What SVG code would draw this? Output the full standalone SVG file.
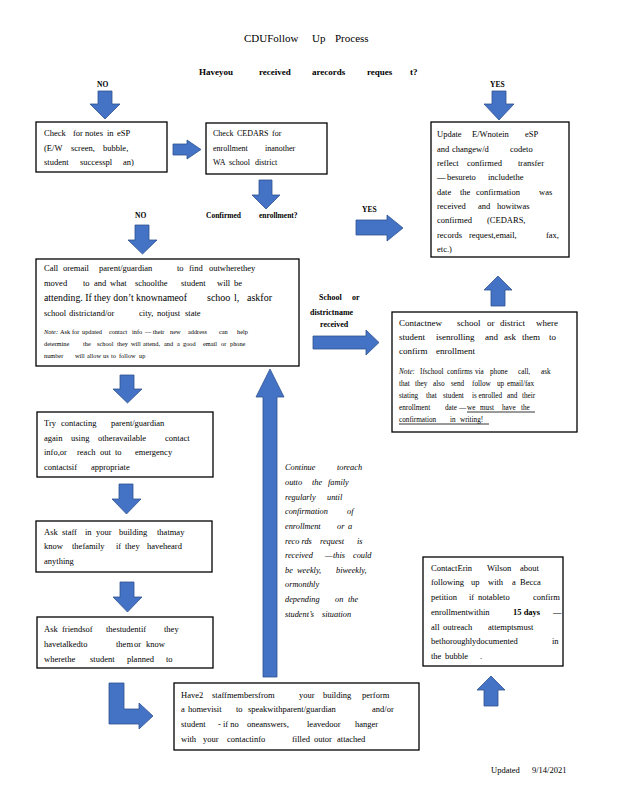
<svg xmlns="http://www.w3.org/2000/svg" width="618" height="800" viewBox="0 0 618 800">
<style>
.t{font-family:"Liberation Serif","Times New Roman",serif;font-size:8.5px;fill:#000}
.b{font-weight:bold}
.n{font-size:6.3px}
.n2{font-size:7.2px}
.i{font-style:italic}
.big{font-size:10px}
.box{fill:#fff;stroke:#000;stroke-width:1.3}
.ar{fill:#4472C4;stroke:#2F528F;stroke-width:0.8}
.ul{stroke:#000;stroke-width:0.8}
</style>
<rect width="618" height="800" fill="#fff"/>
<g id="title">
<text class="t" style="font-size:11px" y="42"><tspan x="244">CDUFollow</tspan><tspan x="312">Up</tspan><tspan x="335">Process</tspan></text>
<text class="t b" style="font-size:9px" y="75"><tspan x="199">Haveyou</tspan><tspan x="259">received</tspan><tspan x="312">arecords</tspan><tspan x="367">reques</tspan><tspan x="410">t?</tspan></text>
<text class="t b" style="font-size:7.5px" y="87" x="97">NO</text>
<text class="t b" style="font-size:7.5px" y="87" x="490">YES</text>
</g>
<g id="connectors">
<path class="ar" d="M98,91H112V104H120L105,119L90,104H98Z"/>
<path class="ar" d="M492,91H506V104H514L499,120L484,104H492Z"/>
<path class="ar" d="M173,144H187V140L201,149.5L187,159V155H173Z"/>
<path class="ar" d="M259,180H272V195H280L266,209L252,195H259Z"/>
<path class="ar" d="M356,220H387V215L403,228L387,241V235H356Z"/>
<path class="ar" d="M135,225H149V240H157L142.5,254L128,240H135Z"/>
<path class="ar" d="M491,306V290H484L498,276L512,290H505V306Z"/>
<path class="ar" d="M313,336H366V330L379,342.5L366,355V349H313Z"/>
<path class="ar" d="M120,375H134V389H142L127.5,403L113,389H120Z"/>
<path class="ar" d="M119,484H133V499H141L126.5,514L112,499H119Z"/>
<path class="ar" d="M120,582H134V597H142L127.5,612L113,597H120Z"/>
<path class="ar" d="M109,683H124V709H139V703L153,716L139,729V724H109Z"/>
<path class="ar" d="M263,677V397H256L270,369L284,397H277V677Z"/>
<path class="ar" d="M484,706V690H477L491,676L505,690H498V706Z"/>
<text class="t b" style="font-size:7.5px" y="218" x="135">NO</text>
<text class="t b" style="font-size:7.5px" y="217.5"><tspan x="206">Confirmed</tspan><tspan x="259">enrollment?</tspan></text>
<text class="t b" style="font-size:7.5px" y="212" x="362">YES</text>
<text class="t b" style="font-size:8px" y="300"><tspan x="319">School</tspan><tspan x="352">or</tspan></text>
<text class="t b" style="font-size:8px" y="315" x="310">districtname</text>
<text class="t b" style="font-size:8px" y="327" x="320">received</text>
<text class="t i" style="font-size:8.3px" y="470"><tspan x="285">Continue</tspan><tspan x="337">toreach</tspan></text>
<text class="t i" style="font-size:8.3px" y="485"><tspan x="285">outto</tspan><tspan x="312">the</tspan><tspan x="328">family</tspan></text>
<text class="t i" style="font-size:8.3px" y="500"><tspan x="285">regularly</tspan><tspan x="327">until</tspan></text>
<text class="t i" style="font-size:8.3px" y="514"><tspan x="285">confirmation</tspan><tspan x="347">of</tspan></text>
<text class="t i" style="font-size:8.3px" y="529"><tspan x="285">enrollment</tspan><tspan x="337">or</tspan><tspan x="348">a</tspan></text>
<text class="t i" style="font-size:8.3px" y="544"><tspan x="285">reco rds</tspan><tspan x="320">request</tspan><tspan x="357">is</tspan></text>
<text class="t i" style="font-size:8.3px" y="558"><tspan x="285">received</tspan><tspan x="325">—</tspan><tspan x="333">this</tspan><tspan x="353">could</tspan></text>
<text class="t i" style="font-size:8.3px" y="573"><tspan x="285">be</tspan><tspan x="297">weekly,</tspan><tspan x="336">biweekly,</tspan></text>
<text class="t i" style="font-size:8.3px" y="587" x="285">ormonthly</text>
<text class="t i" style="font-size:8.3px" y="602"><tspan x="285">depending</tspan><tspan x="335">on</tspan><tspan x="348">the</tspan></text>
<text class="t i" style="font-size:8.3px" y="617"><tspan x="285">student’s</tspan><tspan x="322">situation</tspan></text>
</g>
<g id="n1">
<rect class="box" x="36" y="122" width="131" height="50"/>
<text class="t" y="136"><tspan x="44">Check</tspan><tspan x="73">for</tspan><tspan x="85">notes</tspan><tspan x="107">in</tspan><tspan x="117">eSP</tspan></text>
<text class="t" y="151"><tspan x="44">(E/W</tspan><tspan x="71">screen,</tspan><tspan x="103">bubble,</tspan></text>
<text class="t" y="165"><tspan x="44">student</tspan><tspan x="80">successpl</tspan><tspan x="123">an)</tspan></text>
</g>
<g id="n2">
<rect class="box" x="206" y="123" width="121" height="51"/>
<text class="t" style="font-size:8px" y="136"><tspan x="213">Check</tspan><tspan x="237">CEDARS</tspan><tspan x="272">for</tspan></text>
<text class="t" style="font-size:8px" y="151"><tspan x="213">enrollment</tspan><tspan x="265">inanother</tspan></text>
<text class="t" style="font-size:8px" y="165"><tspan x="213">WA</tspan><tspan x="229">school</tspan><tspan x="255">district</tspan></text>
</g>
<g id="n3">
<rect class="box" x="431" y="122" width="138" height="135"/>
<text class="t" y="137"><tspan x="437">Update</tspan><tspan x="472">E/Wnotein</tspan><tspan x="525">eSP</tspan></text>
<text class="t" y="152"><tspan x="437">and</tspan><tspan x="452">changew/d</tspan><tspan x="510">codeto</tspan></text>
<text class="t" y="166"><tspan x="437">reflect</tspan><tspan x="467">confirmed</tspan><tspan x="518">transfer</tspan></text>
<text class="t" y="180"><tspan x="437">—</tspan><tspan x="447">besureto</tspan><tspan x="488">includethe</tspan></text>
<text class="t" y="195"><tspan x="437">date</tspan><tspan x="460">the</tspan><tspan x="476">confirmation</tspan><tspan x="539">was</tspan></text>
<text class="t" y="209"><tspan x="437">received</tspan><tspan x="478">and</tspan><tspan x="497">howitwas</tspan></text>
<text class="t" y="223"><tspan x="437">confirmed</tspan><tspan x="487">(CEDARS,</tspan></text>
<text class="t" y="238"><tspan x="437">records</tspan><tspan x="469">request,email,</tspan><tspan x="546">fax,</tspan></text>
<text class="t" y="252" x="437">etc.)</text>
</g>
<g id="n4">
<rect class="box" x="36" y="259" width="263" height="107"/>
<text class="t" y="271"><tspan x="44">Call</tspan><tspan x="63">oremail</tspan><tspan x="99">parent/guardian</tspan><tspan x="177">to</tspan><tspan x="189">find</tspan><tspan x="209">outwherethey</tspan></text>
<text class="t" y="286"><tspan x="44">moved</tspan><tspan x="83">to</tspan><tspan x="94">and</tspan><tspan x="110">what</tspan><tspan x="135">schoolthe</tspan><tspan x="181">student</tspan><tspan x="217">will</tspan><tspan x="234">be</tspan></text>
<text class="t big" y="301"><tspan x="44" textLength="143" lengthAdjust="spacingAndGlyphs">attending. If they don’t knownameof</tspan><tspan x="207">schoo</tspan><tspan x="234">l,</tspan><tspan x="247">askfor</tspan></text>
<text class="t" y="316"><tspan x="44">school</tspan><tspan x="69">districtand/or</tspan><tspan x="139">city,</tspan><tspan x="157">notjust</tspan><tspan x="185">state</tspan></text>
<text class="t n" y="334"><tspan x="44" class="i">Note:</tspan><tspan x="60">Ask</tspan><tspan x="72">for</tspan><tspan x="82">updated</tspan><tspan x="109">contact</tspan><tspan x="132">info</tspan><tspan x="145">— their</tspan><tspan x="170">new</tspan><tspan x="188">address</tspan><tspan x="219">can</tspan><tspan x="237">help</tspan></text>
<text class="t n" y="346"><tspan x="44">determine</tspan><tspan x="83">the</tspan><tspan x="97">school</tspan><tspan x="117">they</tspan><tspan x="131">will</tspan><tspan x="143">attend,</tspan><tspan x="164">and</tspan><tspan x="177">a</tspan><tspan x="183">good</tspan><tspan x="203">email</tspan><tspan x="221">or</tspan><tspan x="230">phone</tspan></text>
<text class="t n" y="358"><tspan x="44">number</tspan><tspan x="75">will</tspan><tspan x="87">allow</tspan><tspan x="103">us</tspan><tspan x="111">to</tspan><tspan x="119">follow</tspan><tspan x="139">up</tspan></text>
</g>
<g id="n5">
<rect class="box" x="392" y="312" width="185" height="120"/>
<text class="t" style="font-size:9px" y="326"><tspan x="399">Contactnew</tspan><tspan x="457">school</tspan><tspan x="487">or</tspan><tspan x="500">district</tspan><tspan x="536">where</tspan></text>
<text class="t" style="font-size:9px" y="340"><tspan x="399">student</tspan><tspan x="436">isenrolling</tspan><tspan x="485">and</tspan><tspan x="504">ask</tspan><tspan x="522">them</tspan><tspan x="549">to</tspan></text>
<text class="t" style="font-size:9px" y="354"><tspan x="399">confirm</tspan><tspan x="436">enrollment</tspan></text>
<text class="t n2" y="374"><tspan x="399" class="i">Note:</tspan><tspan x="420">Ifschool</tspan><tspan x="447">confirms</tspan><tspan x="475">via</tspan><tspan x="490">phone</tspan><tspan x="518">call,</tspan><tspan x="541">ask</tspan></text>
<text class="t n2" y="386"><tspan x="399">that</tspan><tspan x="415">they</tspan><tspan x="433">also</tspan><tspan x="451">send</tspan><tspan x="472">follow</tspan><tspan x="497">up</tspan><tspan x="507">email/fax</tspan></text>
<text class="t n2" y="398"><tspan x="399">stating</tspan><tspan x="426">that</tspan><tspan x="443">student</tspan><tspan x="472">is enrolled</tspan><tspan x="507">and</tspan><tspan x="522">their</tspan></text>
<text class="t n2" y="410"><tspan x="399">enrollment</tspan><tspan x="445">date</tspan><tspan x="459">—</tspan><tspan x="467">we</tspan><tspan x="480">must</tspan><tspan x="502">have</tspan><tspan x="521">the</tspan></text>
<text class="t n2" y="422"><tspan x="399">confirmation</tspan><tspan x="450">in</tspan><tspan x="460">writing!</tspan></text>
<line class="ul" x1="467" y1="412" x2="535" y2="412"/>
<line class="ul" x1="399" y1="424" x2="489" y2="424"/>
</g>
<g id="n6">
<rect class="box" x="37" y="412" width="176" height="65"/>
<text class="t" y="426"><tspan x="44">Try</tspan><tspan x="61">contacting</tspan><tspan x="111">parent/guardian</tspan></text>
<text class="t" y="441"><tspan x="44">again</tspan><tspan x="71">using</tspan><tspan x="98">otheravailable</tspan><tspan x="165">contact</tspan></text>
<text class="t" y="455"><tspan x="44">info,or</tspan><tspan x="77">reach</tspan><tspan x="100">out</tspan><tspan x="115">to</tspan><tspan x="135">emergency</tspan></text>
<text class="t" y="470"><tspan x="44">contactsif</tspan><tspan x="91">appropriate</tspan></text>
</g>
<g id="n7">
<rect class="box" x="36" y="521" width="176" height="51"/>
<text class="t" y="535"><tspan x="44">Ask</tspan><tspan x="62">staff</tspan><tspan x="85">in</tspan><tspan x="96">your</tspan><tspan x="119">building</tspan><tspan x="157">thatmay</tspan></text>
<text class="t" y="549"><tspan x="44">know</tspan><tspan x="72">thefamily</tspan><tspan x="116">if</tspan><tspan x="125">they</tspan><tspan x="147">haveheard</tspan></text>
<text class="t" y="564" x="44">anything</text>
</g>
<g id="n8">
<rect class="box" x="37" y="617" width="176" height="51"/>
<text class="t" y="632"><tspan x="44">Ask</tspan><tspan x="62">friendsof</tspan><tspan x="106">thestudentif</tspan><tspan x="164">they</tspan></text>
<text class="t" y="647"><tspan x="44">havetalkedto</tspan><tspan x="116">them</tspan><tspan x="134">or</tspan><tspan x="146">know</tspan></text>
<text class="t" y="662"><tspan x="44">wherethe</tspan><tspan x="90">student</tspan><tspan x="127">planned</tspan><tspan x="166">to</tspan></text>
</g>
<g id="n9">
<rect class="box" x="174" y="683" width="245" height="67"/>
<text class="t" y="698"><tspan x="181">Have2</tspan><tspan x="212">staffmembersfrom</tspan><tspan x="299">your</tspan><tspan x="323">building</tspan><tspan x="362">perform</tspan></text>
<text class="t" y="712"><tspan x="181">a</tspan><tspan x="188">homevisit</tspan><tspan x="236">to</tspan><tspan x="248">speakwithparent/guardian</tspan><tspan x="372">and/or</tspan></text>
<text class="t" y="727"><tspan x="181">student</tspan><tspan x="218">- if no</tspan><tspan x="247">oneanswers,</tspan><tspan x="307">leavedoor</tspan><tspan x="355">hanger</tspan></text>
<text class="t" y="742"><tspan x="181">with</tspan><tspan x="203">your</tspan><tspan x="227">contactinfo</tspan><tspan x="292">filled</tspan><tspan x="314">outor</tspan><tspan x="337">attached</tspan></text>
</g>
<g id="n10">
<rect class="box" x="423" y="557" width="140" height="109"/>
<text class="t" y="571"><tspan x="431">ContactErin</tspan><tspan x="487">Wilson</tspan><tspan x="520">about</tspan></text>
<text class="t" y="585"><tspan x="431">following</tspan><tspan x="471">up</tspan><tspan x="488">with</tspan><tspan x="512">a</tspan><tspan x="520">Becca</tspan></text>
<text class="t" y="600"><tspan x="431">petition</tspan><tspan x="469">if</tspan><tspan x="478">notableto</tspan><tspan x="533">confirm</tspan></text>
<text class="t" y="615"><tspan x="431">enrollmentwithin</tspan><tspan x="513" class="b">15 days</tspan><tspan x="553">—</tspan></text>
<text class="t" y="630"><tspan x="431">all</tspan><tspan x="443">outreach</tspan><tspan x="488">attemptsmust</tspan></text>
<text class="t" y="644"><tspan x="431">bethoroughlydocumented</tspan><tspan x="552">in</tspan></text>
<text class="t" y="659"><tspan x="431">the</tspan><tspan x="445">bubble</tspan><tspan x="480">.</tspan></text>
</g>
<g id="footer">
<text class="t" y="773"><tspan x="491">Updated</tspan><tspan x="532">9/14/2021</tspan></text>
</g>
</svg>
